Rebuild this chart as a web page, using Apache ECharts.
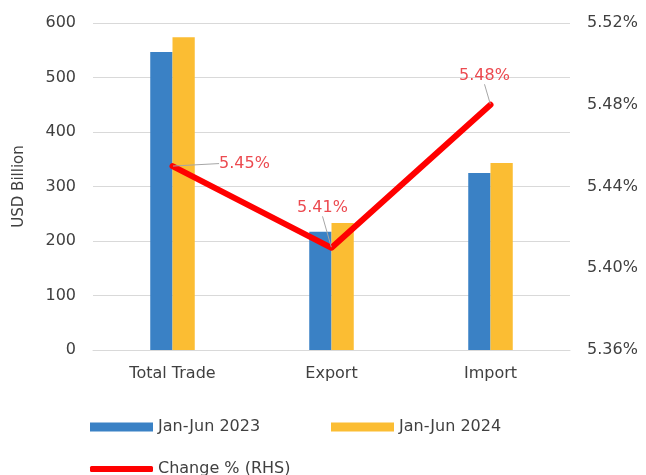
<!DOCTYPE html>
<html>
<head>
<meta charset="utf-8">
<script src="https://cdn.jsdelivr.net/npm/echarts@6/dist/echarts.min.js"></script>
<style>html,body{margin:0;padding:0;background:#fff}#c{width:646px;height:475px}</style>
</head>
<body>
<div id="c"></div>
<script>
var categories = ['Total Trade', 'Export', 'Import'];
var jan2023 = [547, 217, 325];
var jan2024 = [574, 233, 343];
var changePct = [5.45, 5.41, 5.48];
var leftTicks = [0, 100, 200, 300, 400, 500, 600];
var rightTicks = [5.36, 5.40, 5.44, 5.48, 5.52];

var FONT = 'DejaVu Sans';
var TXT = '#404040';
var FS = 16;
var labelShift = [[72, 11], [-9, -26], [-6, -15]];

var chart = echarts.init(document.getElementById('c'));
chart.setOption({
  animation: false,
  textStyle: { fontFamily: FONT },
  grid: { left: 93, right: 76, top: 23, bottom: 125 },
  legend: [
    { data: ['Jan-Jun 2023'], left: 85, top: 414, itemWidth: 63, itemHeight: 9, itemGap: 0,
      textStyle: { color: TXT, fontSize: FS, fontFamily: FONT }, icon: 'rect' },
    { data: ['Jan-Jun 2024'], left: 326, top: 414, itemWidth: 63, itemHeight: 9, itemGap: 0,
      textStyle: { color: TXT, fontSize: FS, fontFamily: FONT }, icon: 'rect' },
    { data: [{ name: 'Change % (RHS)', icon: 'roundRect' }], left: 85, top: 456, itemWidth: 63, itemHeight: 6, itemGap: 0,
      textStyle: { color: TXT, fontSize: FS, fontFamily: FONT } }
  ],
  xAxis: {
    type: 'category', data: categories,
    axisLine: { show: true, lineStyle: { color: '#d9d9d9' } },
    axisTick: { show: false },
    axisLabel: { color: TXT, fontSize: FS, margin: 16, fontFamily: FONT }
  },
  yAxis: [
    { type: 'value', min: leftTicks[0], max: leftTicks[leftTicks.length - 1], interval: 100,
      name: 'USD Billion', nameLocation: 'middle', nameGap: 66, nameRotate: 90,
      nameTextStyle: { color: TXT, fontSize: 15, fontFamily: FONT },
      axisLabel: { color: TXT, fontSize: FS, margin: 17, fontFamily: FONT },
      splitLine: { lineStyle: { color: '#d9d9d9' } },
      axisLine: { show: false }, axisTick: { show: false } },
    { type: 'value', min: rightTicks[0], max: rightTicks[rightTicks.length - 1], interval: 0.04,
      axisLabel: { color: TXT, fontSize: FS, margin: 17, fontFamily: FONT,
        formatter: function (v) { return v.toFixed(2) + '%'; } },
      splitLine: { show: false }, axisLine: { show: false }, axisTick: { show: false } }
  ],
  series: [
    { name: 'Jan-Jun 2023', type: 'bar', data: jan2023, barGap: '0%', barCategoryGap: '72%',
      itemStyle: { color: '#3a81c5' } },
    { name: 'Jan-Jun 2024', type: 'bar', data: jan2024, barGap: '0%', barCategoryGap: '72%',
      itemStyle: { color: '#fbbd33' } },
    { name: 'Change % (RHS)', type: 'line', yAxisIndex: 1, data: changePct, z: 5,
      symbol: 'circle', symbolSize: 1, showSymbol: true,
      lineStyle: { color: '#ff0000', width: 6, cap: 'round', join: 'round' },
      itemStyle: { color: '#ff0000' },
      label: { show: true, position: 'top', color: '#ec4a50', fontSize: FS, fontFamily: FONT,
        formatter: function (p) { return p.value.toFixed(2) + '%'; } },
      labelLine: { show: true, lineStyle: { color: '#a6a6a6', width: 1 } },
      labelLayout: function (p) {
        var s = labelShift[p.dataIndex];
        return { dx: s[0], dy: s[1] };
      }
    }
  ]
});
</script>
</body>
</html>
